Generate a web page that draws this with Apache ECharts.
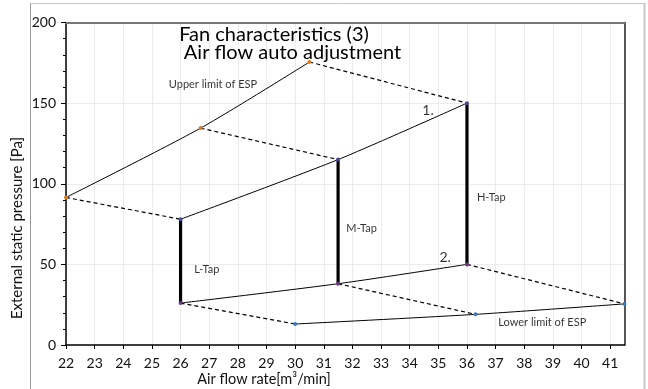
<!DOCTYPE html>
<html><head><meta charset="utf-8">
<script src="https://cdn.jsdelivr.net/npm/echarts@6/dist/echarts.min.js"></script>
<style>html,body{margin:0;padding:0;background:#fff}#c{width:648px;height:389px}</style>
</head><body><div id="c"></div>
<script>
const FONT = 'Lato, "Liberation Sans", sans-serif';
// data
const upperLimit = [[22, 91.5], [26.7, 134.5], [30.5, 175.5]];
const line1 = [[26, 78], [31.5, 115], [36, 150]];
const line2 = [[26, 26], [31.5, 38], [36, 50]];
const lowerLimit = [[30, 13], [36.3, 19], [41.5, 25.5]];
const dashedLinks = [
  [[22, 91.5], [26, 78]],
  [[26.7, 134.5], [31.5, 115]],
  [[30.5, 175.5], [36, 150]],
  [[26, 26], [30, 13]],
  [[31.5, 38], [36.3, 19]],
  [[36, 50], [41.5, 25.5]]
];
const taps = [
  [[26, 78], [26, 26]],
  [[31.5, 115], [31.5, 38]],
  [[36, 150], [36, 50]]
];
const annotations = [
  {text: 'Upper limit of ESP', coord: [27.13, 161.5], size: 11},
  {text: '1.', coord: [34.64, 145.3], size: 14},
  {text: '2.', coord: [35.24, 54], size: 14},
  {text: 'H-Tap', coord: [36.85, 91.3], size: 11},
  {text: 'M-Tap', coord: [32.32, 72.5], size: 11},
  {text: 'L-Tap', coord: [26.92, 46.6], size: 11},
  {text: 'Lower limit of ESP', coord: [38.63, 14.1], size: 11}
];
const titleLines = ['Fan characteristics (3)', 'Air flow auto adjustment'];
const xName = 'Air flow rate[m³/min]';
const yName = 'External static pressure [Pa]';

function joinSegments(segs) {
  const out = [];
  segs.forEach((s, i) => { if (i) out.push([null, null]); s.forEach(p => out.push(p)); });
  return out;
}

const solidStyle = {color: '#000', width: 1};
const series = [];
[[upperLimit, '#e07b20'], [line1, '#4a4a9a'], [line2, '#6a3a7a'], [lowerLimit, '#3a7ac0']].forEach(([d, c]) => {
  series.push({type: 'line', data: d, smooth: 0.25, symbol: 'circle', symbolSize: 4,
    itemStyle: {color: c}, lineStyle: solidStyle, z: 3, animation: false});
});
series.push({type: 'line', data: joinSegments(dashedLinks), connectNulls: false, symbol: 'none',
  lineStyle: {color: '#000', width: 1.2, type: [4, 3]}, z: 2, animation: false});
series.push({type: 'line', data: joinSegments(taps), connectNulls: false, symbol: 'none',
  lineStyle: {color: '#000', width: 3.2}, z: 2, animation: false});
series.push({type: 'scatter', data: annotations.map(a => ({value: a.coord,
  label: {show: true, position: 'inside', formatter: a.text, fontSize: a.size, color: '#000', fontFamily: FONT}})),
  symbolSize: 0, itemStyle: {color: 'transparent'}, z: 5, animation: false, silent: true});

const chart = echarts.init(document.getElementById('c'));
chart.setOption({
  animation: false,
  backgroundColor: '#fff',
  title: [
    {text: titleLines[0], left: 269, top: 19.5, textAlign: 'center',
      textStyle: {fontSize: 20, fontWeight: 'normal', color: '#000', fontFamily: FONT}},
    {text: titleLines[1], left: 287.5, top: 37.5, textAlign: 'center',
      textStyle: {fontSize: 20, fontWeight: 'normal', color: '#000', fontFamily: FONT}}
  ],
  grid: {left: 66, right: 23.5, top: 22.5, bottom: 44, containLabel: false},
  xAxis: [{
    type: 'value', min: 22, max: 41.5, interval: 1,
    axisLine: {lineStyle: {color: '#000', width: 1.5}},
    axisTick: {show: true, inside: false, length: 4, lineStyle: {color: '#000'}},
    axisLabel: {showMaxLabel: false, fontSize: 14, color: '#111', margin: 11, fontFamily: FONT},
    splitLine: {show: true, lineStyle: {color: '#ececec'}}
  }, {
    type: 'value', position: 'top', min: 22, max: 41.5,
    axisLine: {show: true, onZero: false, lineStyle: {color: '#777', width: 2}},
    axisTick: {show: false}, axisLabel: {show: false}, splitLine: {show: false}
  }],
  yAxis: [{
    type: 'value', min: 0, max: 200, interval: 50,
    axisLine: {show: true, lineStyle: {color: '#000', width: 1.5}},
    axisTick: {show: true, inside: false, length: 5, lineStyle: {color: '#000'}},
    minorTick: {show: true, splitNumber: 5, length: 3, lineStyle: {color: '#000'}},
    axisLabel: {fontSize: 14, color: '#111', margin: 10, fontFamily: FONT},
    splitLine: {show: true, lineStyle: {color: '#ececec'}}
  }, {
    type: 'value', position: 'right', min: 0, max: 200,
    axisLine: {show: true, onZero: false, lineStyle: {color: '#222', width: 1.5}},
    axisTick: {show: false}, axisLabel: {show: false}, splitLine: {show: false}
  }],
  graphic: [
    {type: 'line', shape: {x1: 30.5, y1: 3, x2: 30.5, y2: 389}, style: {stroke: '#999', lineWidth: 1}},
    {type: 'line', shape: {x1: 30.5, y1: 3.5, x2: 645, y2: 3.5}, style: {stroke: '#c8c8c8', lineWidth: 1}},
    {type: 'line', shape: {x1: 644.5, y1: 3, x2: 644.5, y2: 389}, style: {stroke: '#c8c8c8', lineWidth: 2}},
    {type: 'text', x: 264, y: 379, style: {text: xName, fill: '#111', font: '14.5px ' + FONT, textAlign: 'center', textVerticalAlign: 'middle'}},
    {type: 'text', x: 17, y: 228, rotation: Math.PI / 2, style: {text: yName, fill: '#111', font: '15px ' + FONT, textAlign: 'center', textVerticalAlign: 'middle'}}
  ],
  series: series
});
</script></body></html>
